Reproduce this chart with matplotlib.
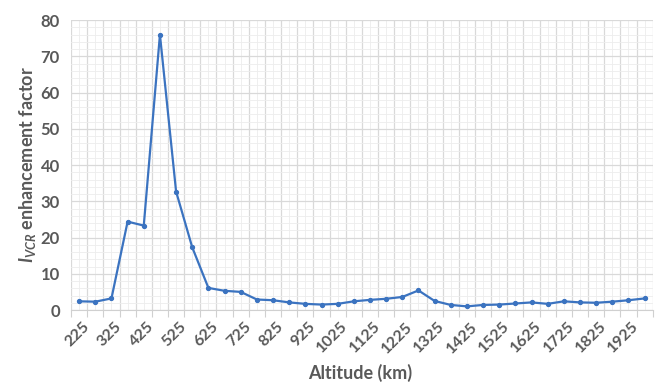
import matplotlib
matplotlib.use("Agg")
import matplotlib.pyplot as plt
import numpy as np

# altitude categories (km), one point every 50 km
altitudes = list(range(225, 2000, 50))
enhancement = [2.4, 2.3, 3.2, 24.4, 23.3, 76.0, 32.7, 17.3, 6.1, 5.3, 5.0,
               2.9, 2.7, 2.1, 1.7, 1.5, 1.7, 2.4, 2.8, 3.1, 3.6, 5.4, 2.5,
               1.4, 1.0, 1.4, 1.5, 1.8, 2.1, 1.7, 2.4, 2.1, 2.0, 2.3, 2.7, 3.2]
tick_labels = [str(a) for a in altitudes[::2]]

plt.rcParams['font.family'] = ['Lato', 'DejaVu Sans']
plt.rcParams['mathtext.fontset'] = 'custom'
plt.rcParams['mathtext.it'] = 'Lato:italic:bold'
plt.rcParams['mathtext.rm'] = 'Lato:bold'

txt = '#595959'

fig = plt.figure(figsize=(6.58, 3.88), dpi=100)
ax = fig.add_axes([0.108, 0.201, 0.884, 0.747])

x = np.arange(len(altitudes))
ax.plot(x, enhancement, color='#3b73c0', lw=1.6, marker='o', ms=2.8, zorder=3)

ax.set_xlim(-0.5, len(altitudes) - 0.5)
ax.set_ylim(0, 80)

# grid: category boundaries as major, centres as minor
ax.set_xticks(np.arange(-0.5, len(altitudes), 1.0))
ax.set_xticklabels([])
ax.set_xticks(x, minor=True)
ax.set_yticks(np.arange(0, 81, 10))
ax.set_yticks(np.arange(0, 81, 2), minor=True)
ax.grid(which='major', color='#d9d9d9', lw=0.9)
ax.grid(which='minor', color='#ededed', lw=0.6)
ax.set_axisbelow(True)

for s in ['top', 'right', 'left']:
    ax.spines[s].set_visible(False)
ax.spines['bottom'].set_color('#d0d0d0')

ax.tick_params(axis='x', which='major', length=5, color='#d0d0d0')
ax.tick_params(axis='x', which='minor', length=0)
ax.tick_params(axis='y', which='both', length=0, pad=8)
for lab in ax.get_yticklabels():
    lab.set_fontsize(12)
    lab.set_fontweight('bold')
    lab.set_color(txt)

for i, lab in zip(x[::2], tick_labels):
    ax.text(i + 0.2, -2.6, lab, rotation=45, ha='right', va='top',
            rotation_mode='anchor', fontsize=11.5, fontweight='bold', color=txt)

fig.text(0.547, 0.04, 'Altitude (km)', ha='center', va='center',
         fontsize=13, fontweight='bold', color=txt)
fig.text(0.042, 0.575, r'$\mathit{I}_{\mathit{VCR}}$ enhancement factor', rotation=90,
         ha='center', va='center', fontsize=13, fontweight='bold', color=txt)

fig.savefig('out.png', dpi=100)
